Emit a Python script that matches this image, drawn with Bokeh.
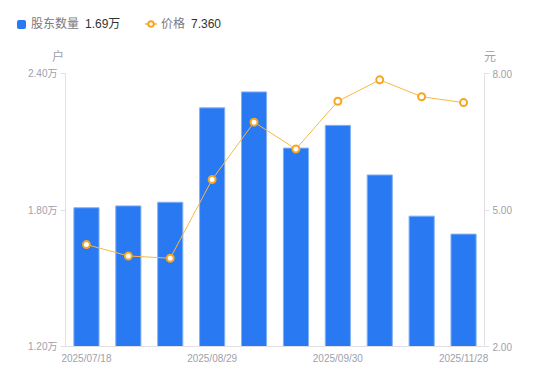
from bokeh.plotting import figure
from bokeh.models import (Range1d, LinearAxis, FixedTicker, CustomJSTickFormatter,
                          Div, ColumnDataSource)
from bokeh.layouts import column
from bokeh.embed import file_html
from bokeh.resources import INLINE

# ---- data ----
dates = ["2025/07/18", "2025/07/31", "2025/08/20", "2025/08/29", "2025/09/10",
         "2025/09/19", "2025/09/30", "2025/10/31", "2025/11/10", "2025/11/28"]
holders_wan = [1.810, 1.818, 1.834, 2.249, 2.319, 2.072, 2.172, 1.954, 1.773, 1.694]
price = [4.24, 3.99, 3.94, 5.67, 6.93, 6.34, 7.39, 7.86, 7.49, 7.36]
series_names = ["股东数量", "价格"]
left_unit = "户"
right_unit = "元"
left_ticks = [1.2, 1.8, 2.4]
right_ticks = [2.0, 5.0, 8.0]
x_tick_idx = [0, 3, 6, 9]

BAR = "#2979f3"
BAR_EDGE = "#82b1f8"
LINE = "#f7b748"
MARK = "#f5a623"
AXIS = "#e0e0e6"
LABEL = "#a0a0ac"
FONT = "Liberation Sans, Noto Sans CJK SC"

xs = list(range(len(dates)))
src = ColumnDataSource(dict(x=xs, h=holders_wan, p=price, d=dates))

W, H_LEG, H_FIG = 542, 64, 309

p = figure(width=W, height=H_FIG, output_backend="svg", toolbar_location=None,
           x_range=Range1d(-0.5, len(dates) - 0.5),
           y_range=Range1d(left_ticks[0], left_ticks[-1]),
           min_border_left=65, min_border_right=58, min_border_top=9,
           min_border_bottom=27)
p.extra_y_ranges = {"price": Range1d(right_ticks[0], right_ticks[-1])}
p.outline_line_color = None
p.xgrid.visible = False
p.ygrid.visible = False
p.background_fill_color = "white"
p.border_fill_color = "white"

p.vbar(x="x", top="h", bottom=left_ticks[0], width=0.6, source=src,
       fill_color=BAR, line_color=BAR_EDGE, line_width=1)
p.line(x="x", y="p", source=src, y_range_name="price", line_color=LINE, line_width=1)
p.scatter(x="x", y="p", source=src, y_range_name="price", marker="circle", size=7,
          fill_color="white", line_color=MARK, line_width=2)

def style_axis(ax):
    ax.axis_line_color = AXIS
    ax.major_tick_line_color = AXIS
    ax.minor_tick_line_color = None
    ax.major_tick_in = 0
    ax.major_label_text_color = LABEL
    ax.major_label_text_font = FONT
    ax.major_label_text_font_size = "10px"

# left axis
ly = p.yaxis[0]
style_axis(ly)
ly.ticker = FixedTicker(ticks=left_ticks)
ly.formatter = CustomJSTickFormatter(code='return tick.toFixed(2) + "万";')
ly.major_tick_out = 5
ly.major_label_standoff = 3

# right axis
ry = LinearAxis(y_range_name="price")
style_axis(ry)
ry.ticker = FixedTicker(ticks=right_ticks)
ry.formatter = CustomJSTickFormatter(code='return tick.toFixed(2);')
ry.major_tick_out = 5
ry.major_label_standoff = 3
p.add_layout(ry, "right")

# bottom axis
bx = p.xaxis[0]
style_axis(bx)
bx.ticker = FixedTicker(ticks=x_tick_idx)
bx.formatter = CustomJSTickFormatter(args=dict(labels=dates),
                                     code='return labels[Math.round(tick)];')
bx.major_tick_out = 0
bx.major_label_standoff = 6

# legend (mixed colours) and axis unit names as HTML
v1 = f"{holders_wan[-1]:.2f}万"
v2 = f"{price[-1]:.3f}"
legend_html = f'''
<div style="position:relative;width:{W}px;height:{H_LEG}px;font-family:'Liberation Sans','Noto Sans CJK SC',sans-serif;font-size:12px;">
 <span style="position:absolute;left:17px;top:20px;width:9px;height:9px;background:{BAR};border-radius:2px;"></span>
 <span style="position:absolute;left:31px;top:16px;line-height:16px;color:#7a7a82;white-space:nowrap;">{series_names[0]}</span>
 <span style="position:absolute;left:85px;top:16px;line-height:16px;color:#333;white-space:nowrap;">{v1}</span>
 <svg style="position:absolute;left:145px;top:19px;" width="12" height="10">
   <line x1="0" y1="5" x2="12" y2="5" stroke="{LINE}" stroke-width="1.5"/>
   <circle cx="6" cy="5" r="2.8" fill="white" stroke="{MARK}" stroke-width="2"/>
 </svg>
 <span style="position:absolute;left:161px;top:16px;line-height:16px;color:#7a7a82;white-space:nowrap;">{series_names[1]}</span>
 <span style="position:absolute;left:191px;top:16px;line-height:16px;color:#333;white-space:nowrap;">{v2}</span>
 <span style="position:absolute;left:52px;top:49px;line-height:16px;color:{LABEL};">{left_unit}</span>
 <span style="position:absolute;left:484px;top:49px;line-height:16px;color:{LABEL};">{right_unit}</span>
</div>'''
leg = Div(text=legend_html, width=W, height=H_LEG, margin=(0, 0, 0, 0))

layout = column(leg, p, spacing=0)
open("out.html", "w").write(file_html(layout, INLINE))
